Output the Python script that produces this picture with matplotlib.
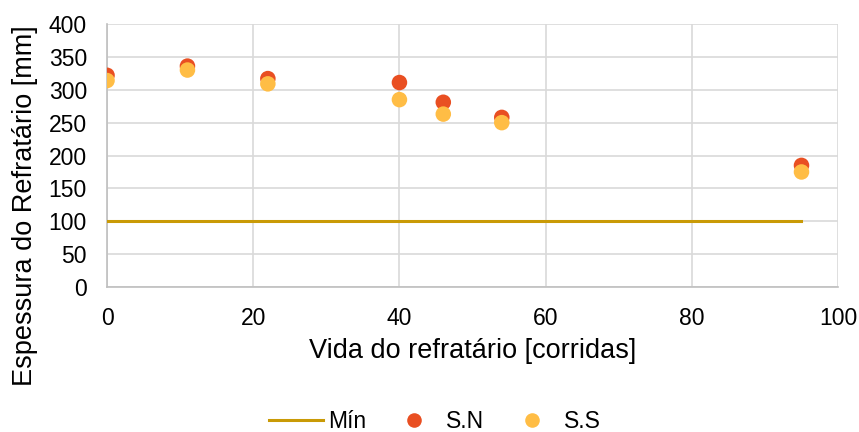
import matplotlib
matplotlib.use("Agg")
import matplotlib.pyplot as plt
from matplotlib.lines import Line2D

plt.rcParams['font.family'] = ['Liberation Sans', 'DejaVu Sans']

# Refractory life (heats) and measured thickness (mm)
vida = [0, 11, 22, 40, 46, 54, 95]
s_n = [322, 336, 317, 311, 281, 258, 185]
s_s = [314, 330, 309, 285, 263, 250, 175]
min_x = [0, 95]
min_y = [100, 100]

c_min = '#C99A06'
c_sn = '#E94F22'
c_ss = '#FFBD45'
grid_c = '#D9D9D9'

fig = plt.figure(figsize=(8.59, 4.32), dpi=100)
ax = fig.add_axes([0.1246, 0.3356, 0.851, 0.6088])

ax.plot(min_x, min_y, color=c_min, lw=2.2, zorder=3)
ax.scatter(vida, s_n, s=125, color=c_sn, edgecolors='none', zorder=4)
ax.scatter(vida, s_s, s=125, color=c_ss, edgecolors='none', zorder=5)

ax.set_xlim(0, 100)
ax.set_ylim(0, 400)
ax.set_xticks(range(0, 101, 20))
ax.set_yticks(range(0, 401, 50))
ax.grid(True, color=grid_c, lw=1.2)
ax.set_axisbelow(True)
for side in ['top', 'right']:
    ax.spines[side].set_visible(False)
for side in ['left', 'bottom']:
    ax.spines[side].set_color('#BFBFBF')
    ax.spines[side].set_linewidth(1.2)
ax.tick_params(length=0, labelsize=16.5, colors='#000000')
ax.tick_params(axis='y', pad=14.5)
ax.tick_params(axis='x', pad=14.5)

ax.set_xlabel('Vida do refratário [corridas]', fontsize=19.5)
ax.set_ylabel('Espessura do Refratário [mm]', fontsize=19.5)
ax.xaxis.set_label_coords(0.5, -0.195)
ax.yaxis.set_label_coords(-0.094, 0.308)

handles = [
    Line2D([], [], color=c_min, lw=2.2),
    Line2D([], [], ls='none', marker='o', markersize=10.5, color=c_sn, markeredgewidth=0),
    Line2D([], [], ls='none', marker='o', markersize=10.5, color=c_ss, markeredgewidth=0),
]
fig.legend(handles, ['Mín', 'S.N', 'S.S'], loc='center', bbox_to_anchor=(0.506, 0.025),
           ncol=3, frameon=False, fontsize=16.5, handlelength=2.36, columnspacing=0.9,
           handletextpad=0.22, borderpad=0.2)

fig.savefig('out.png', dpi=100)
